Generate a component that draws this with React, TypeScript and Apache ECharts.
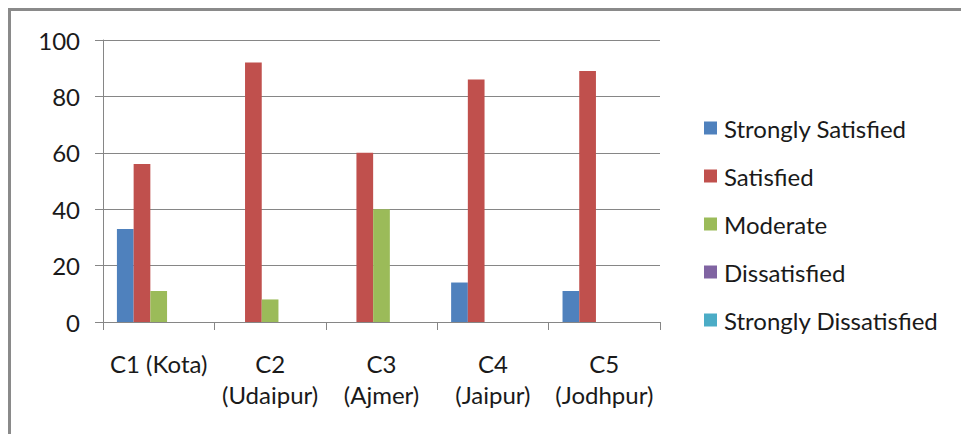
import React, { useEffect, useRef } from "react";
import * as echarts from "echarts";

const categories = ["C1 (Kota)", "C2\n(Udaipur)", "C3\n(Ajmer)", "C4\n(Jaipur)", "C5\n(Jodhpur)"];
const seriesNames = ["Strongly Satisfied", "Satisfied", "Moderate", "Dissatisfied", "Strongly Dissatisfied"];
const stronglySatisfied = [33, 0, 0, 14, 11];
const satisfied = [56, 92, 60, 86, 89];
const moderate = [11, 8, 40, 0, 0];
const dissatisfied = [0, 0, 0, 0, 0];
const stronglyDissatisfied = [0, 0, 0, 0, 0];
const colors = ["#4F81BD", "#C0504D", "#9BBB59", "#8064A2", "#4BACC6"];
const yTicks = { min: 0, max: 100, interval: 20 };

const FONT = "Lato";
const FS = 24;

export default function App() {
  const ref = useRef<HTMLDivElement>(null);
  useEffect(() => {
    if (!ref.current) return;
    const chart = echarts.init(ref.current, null, { renderer: "svg" });
    const data = [stronglySatisfied, satisfied, moderate, dissatisfied, stronglyDissatisfied];
    chart.setOption({
      animation: false,
      backgroundColor: "#ffffff",
      color: colors,
      textStyle: { fontFamily: FONT },
      grid: { left: 103, right: 301, top: 40, bottom: 112, containLabel: false },
      legend: {
        orient: "vertical",
        left: 699,
        top: 111,
        itemWidth: 13,
        itemHeight: 13,
        itemGap: 24,
        icon: "rect",
        textStyle: { fontFamily: FONT, fontSize: FS, color: "#1a1a1a", padding: [0, 0, 0, 2] },
        data: seriesNames,
      },
      xAxis: {
        type: "category",
        data: categories,
        axisLine: { lineStyle: { color: "#868686", width: 1 } },
        axisTick: { show: true, length: 8, alignWithLabel: false, lineStyle: { color: "#868686" } },
        axisLabel: { fontFamily: FONT, fontSize: FS, color: "#1a1a1a", margin: 26, lineHeight: 31, interval: 0 },
      },
      yAxis: {
        type: "value",
        min: yTicks.min,
        max: yTicks.max,
        interval: yTicks.interval,
        axisLine: { show: true, lineStyle: { color: "#868686", width: 1 } },
        axisTick: { show: true, length: 8, lineStyle: { color: "#868686" } },
        axisLabel: { fontFamily: FONT, fontSize: FS, color: "#1a1a1a", margin: 23 },
        splitLine: { show: true, lineStyle: { color: "#868686", width: 1 } },
      },
      series: seriesNames.map((name, i) => ({
        name,
        type: "bar",
        data: data[i],
        barGap: "0%",
        barCategoryGap: "25%",
        itemStyle: { color: colors[i] },
      })),
      graphic: [
        {
          type: "rect",
          shape: { x: 9.5, y: 9.5, width: 1000, height: 1000 },
          style: { fill: "none", stroke: "#8a8a8a", lineWidth: 3 },
          silent: true,
        },
      ],
    });
    return () => chart.dispose();
  }, []);
  return <div ref={ref} style={{ position: "absolute", left: 0, top: 0, width: 961, height: 434 }} />;
}
